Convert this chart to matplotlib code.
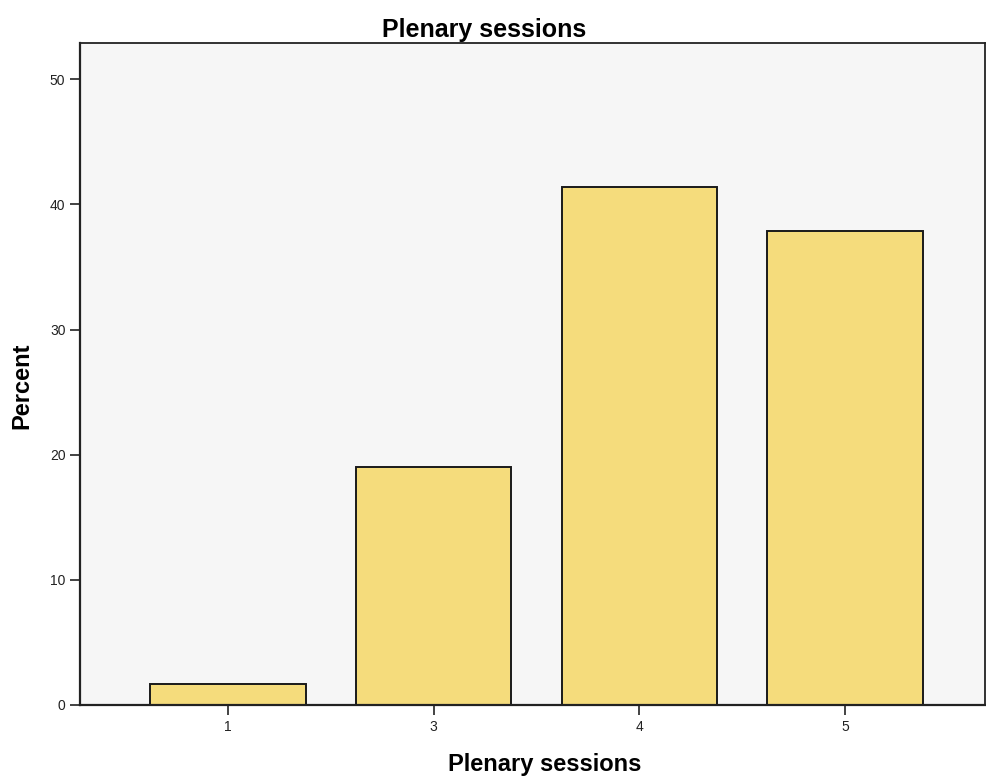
import matplotlib.pyplot as plt

# data
categories = ['1', '3', '4', '5']
percent = [1.7, 19.0, 41.4, 37.9]

plt.rcParams['font.family'] = ['Liberation Sans', 'DejaVu Sans']

fig = plt.figure(figsize=(9.86, 7.76), dpi=100)
ax = fig.add_axes([80 / 986, 1 - 705 / 776, 905 / 986, 662 / 776])
ax.set_facecolor('#f6f6f6')

x = range(len(categories))
ax.bar(x, percent, width=0.755, color='#f5dc7c', edgecolor='#1a1a1a', linewidth=1.4)

ax.set_xlim(-0.72, 3.68)
ax.set_ylim(0, 52.9)
ax.set_yticks([0, 10, 20, 30, 40, 50])
ax.set_xticks(list(x))
ax.set_xticklabels(categories)
ax.tick_params(axis='both', direction='out', length=7, width=1.2, labelsize=10, colors='#222222')

for side in ['left', 'bottom']:
    ax.spines[side].set_linewidth(1.6)
for side in ['top', 'right']:
    ax.spines[side].set_linewidth(1.3)
for s in ax.spines.values():
    s.set_color('#222222')

ax.set_xlabel('Plenary sessions', fontsize=17, fontweight='bold')
ax.xaxis.set_label_coords(0.514, -0.072)
ax.set_ylabel('Percent', fontsize=17, fontweight='bold')
ax.yaxis.set_label_coords(-0.052, 0.483)

fig.text(0.491, 1 - 30 / 776, 'Plenary sessions', fontsize=18, fontweight='bold',
         ha='center', va='center')

plt.savefig('out.png', dpi=100)
